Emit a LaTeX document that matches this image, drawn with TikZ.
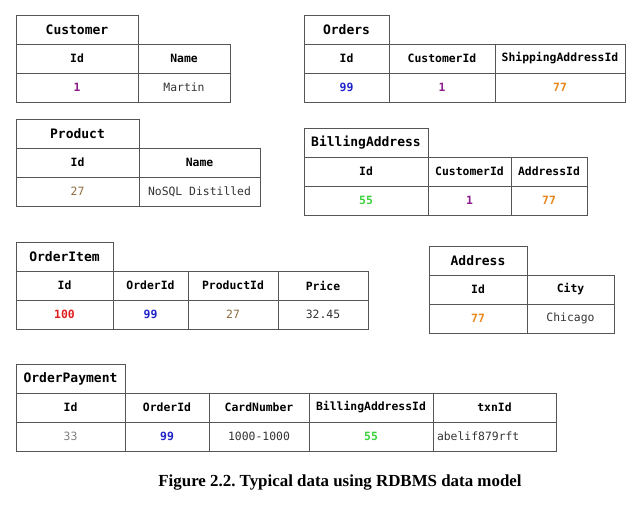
\documentclass[tikz,border=0pt]{standalone}
\usepackage{fontspec}
\usepackage{xcolor}
\usetikzlibrary{positioning}
\newfontfamily\tabfont{DejaVu Sans Mono}
\newfontfamily\capfont{Liberation Serif}
\definecolor{linecolor}{HTML}{555555}
\definecolor{textdark}{HTML}{333333}
\definecolor{idpurple}{HTML}{8E1C8E}
\definecolor{idblue}{HTML}{1E22C8}
\definecolor{idorange}{HTML}{E8871E}
\definecolor{idbrown}{HTML}{8C6A3C}
\definecolor{idgreen}{HTML}{3CD23C}
\definecolor{idred}{HTML}{E01E1E}
\definecolor{idgrey}{HTML}{808080}
\frenchspacing
\tikzset{
    tabletitle/.style={
        shape=rectangle,
        draw=linecolor,
        line width=0.8pt,
        anchor=north west,
        minimum height=29pt,
        inner sep=0pt,
        outer sep=0pt,
        font=\tabfont\bfseries\fontsize{13}{15}\selectfont
    },
    headcell/.style={
        shape=rectangle,
        draw=linecolor,
        line width=0.8pt,
        minimum height=29pt,
        inner sep=0pt,
        outer sep=0pt,
        font=\tabfont\bfseries\fontsize{11.4}{13}\selectfont
    },
    datacell/.style={
        shape=rectangle,
        draw=linecolor,
        line width=0.8pt,
        minimum height=29pt,
        inner sep=0pt,
        outer sep=0pt,
        text=textdark,
        font=\tabfont\fontsize{11.4}{13}\selectfont
    },
    keycell/.style={
        datacell,
        font=\tabfont\bfseries\fontsize{11.4}{13}\selectfont
    },
    caption/.style={
        font=\capfont\bfseries\fontsize{16.9}{19}\selectfont
    }
}

\begin{document}
\begin{tikzpicture}
    \useasboundingbox (0,0) rectangle (642pt,-513pt);

    % Customer
    \node[tabletitle, minimum width=122pt] (cust) at (16pt,-15pt) {Customer};
    \node[headcell, minimum width=122pt, below=0pt of cust] (custId) {Id};
    \node[headcell, minimum width=92pt, right=0pt of custId] (custName) {Name};
    \node[keycell, minimum width=122pt, below=0pt of custId, text=idpurple] (custIdV) {1};
    \node[datacell, minimum width=92pt, below=0pt of custName] (custNameV) {Martin};

    % Orders
    \node[tabletitle, minimum width=85pt] (ord) at (304pt,-15pt) {Orders};
    \node[headcell, minimum width=85pt, below=0pt of ord] (ordId) {Id};
    \node[headcell, minimum width=106pt, right=0pt of ordId] (ordCust) {CustomerId};
    \node[headcell, minimum width=130pt, right=0pt of ordCust] (ordShip) {ShippingAddressId};
    \node[keycell, minimum width=85pt, below=0pt of ordId, text=idblue] (ordIdV) {99};
    \node[keycell, minimum width=106pt, below=0pt of ordCust, text=idpurple] (ordCustV) {1};
    \node[keycell, minimum width=130pt, below=0pt of ordShip, text=idorange] (ordShipV) {77};

    % Product
    \node[tabletitle, minimum width=123pt] (prod) at (16pt,-119pt) {Product};
    \node[headcell, minimum width=123pt, below=0pt of prod] (prodId) {Id};
    \node[headcell, minimum width=121pt, right=0pt of prodId] (prodName) {Name};
    \node[datacell, minimum width=123pt, below=0pt of prodId, text=idbrown] (prodIdV) {27};
    \node[datacell, minimum width=121pt, below=0pt of prodName] (prodNameV) {NoSQL Distilled};

    % BillingAddress
    \node[tabletitle, minimum width=124pt] (bill) at (304pt,-128pt) {BillingAddress};
    \node[headcell, minimum width=124pt, below=0pt of bill] (billId) {Id};
    \node[headcell, minimum width=83pt, right=0pt of billId] (billCust) {CustomerId};
    \node[headcell, minimum width=76pt, right=0pt of billCust] (billAddr) {AddressId};
    \node[keycell, minimum width=124pt, below=0pt of billId, text=idgreen] (billIdV) {55};
    \node[keycell, minimum width=83pt, below=0pt of billCust, text=idpurple] (billCustV) {1};
    \node[keycell, minimum width=76pt, below=0pt of billAddr, text=idorange] (billAddrV) {77};

    % OrderItem
    \node[tabletitle, minimum width=97pt] (item) at (16pt,-242pt) {OrderItem};
    \node[headcell, minimum width=97pt, below=0pt of item] (itemId) {Id};
    \node[headcell, minimum width=75pt, right=0pt of itemId] (itemOrd) {OrderId};
    \node[headcell, minimum width=90pt, right=0pt of itemOrd] (itemProd) {ProductId};
    \node[headcell, minimum width=90pt, right=0pt of itemProd] (itemPrice) {Price};
    \node[keycell, minimum width=97pt, below=0pt of itemId, text=idred] (itemIdV) {100};
    \node[keycell, minimum width=75pt, below=0pt of itemOrd, text=idblue] (itemOrdV) {99};
    \node[datacell, minimum width=90pt, below=0pt of itemProd, text=idbrown] (itemProdV) {27};
    \node[datacell, minimum width=90pt, below=0pt of itemPrice] (itemPriceV) {32.45};

    % Address
    \node[tabletitle, minimum width=98pt] (addr) at (429pt,-246pt) {Address};
    \node[headcell, minimum width=98pt, below=0pt of addr] (addrId) {Id};
    \node[headcell, minimum width=87pt, right=0pt of addrId] (addrCity) {City};
    \node[keycell, minimum width=98pt, below=0pt of addrId, text=idorange] (addrIdV) {77};
    \node[datacell, minimum width=87pt, below=0pt of addrCity] (addrCityV) {Chicago};

    % OrderPayment
    \node[tabletitle, minimum width=109pt] (pay) at (16pt,-364pt) {OrderPayment};
    \node[headcell, minimum width=109pt, below=0pt of pay] (payId) {Id};
    \node[headcell, minimum width=84pt, right=0pt of payId] (payOrd) {OrderId};
    \node[headcell, minimum width=100pt, right=0pt of payOrd] (payCard) {CardNumber};
    \node[headcell, minimum width=124pt, right=0pt of payCard] (payBill) {BillingAddressId};
    \node[headcell, minimum width=123pt, right=0pt of payBill] (payTxn) {txnId};
    \node[datacell, minimum width=109pt, below=0pt of payId, text=idgrey] (payIdV) {33};
    \node[keycell, minimum width=84pt, below=0pt of payOrd, text=idblue] (payOrdV) {99};
    \node[datacell, minimum width=100pt, below=0pt of payCard] (payCardV) {1000-1000};
    \node[keycell, minimum width=124pt, below=0pt of payBill, text=idgreen] (payBillV) {55};
    \node[datacell, text width=115pt, inner xsep=4pt, align=left, below=0pt of payTxn] (payTxnV) {abelif879rft};

    % caption
    \node[caption] (cap) at (340pt,-482pt) {Figure 2.2. Typical data using RDBMS data model};
\end{tikzpicture}
\end{document}
